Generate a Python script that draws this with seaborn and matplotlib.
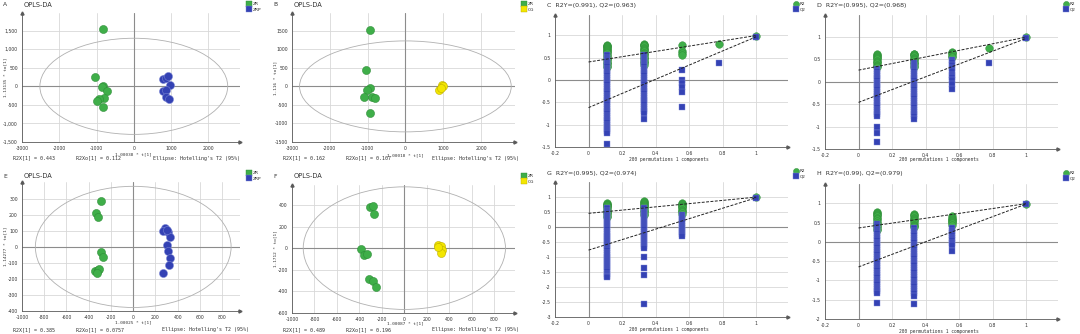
import matplotlib
matplotlib.use("Agg")
import matplotlib.pyplot as plt
import numpy as np
import pandas as pd
import seaborn as sns
from matplotlib.patches import Ellipse
from matplotlib.lines import Line2D
from matplotlib.ticker import AutoMinorLocator, FuncFormatter

# ---------------- score plot data (OPLS-DA) ----------------
a_zr_t = [-830, -1054, -820, -850, -723, -812, -937, -991, -830]
a_zr_to = [1555, 245, 10, -30, -136, -327, -355, -409, -555]
a_zrp_t = [795, 857, 929, 982, 795, 857, 857, 955]
a_zrp_to = [200, 227, 282, 27, -136, -100, -300, -345]

b_zr_t = [-933, -1049, -933, -1004, -1093, -889, -809, -924]
b_zr_to = [1518, 436, -36, -109, -291, -273, -309, -709]
b_cg_t = [978, 996, 889, 951]
b_cg_to = [27, 0, -91, -36]

e_zr_t = [-292, -337, -316, -286, -271, -346, -313, -304, -322]
e_zr_to = [286, 210, 189, -34, -63, -151, -147, -141, -160]
e_zrp_t = [286, 271, 310, 334, 304, 310, 334, 319, 271, 300]
e_zrp_to = [116, 97, 95, 59, 13, -25, -67, -116, -164, 105]

f_zr_t = [-305, -281, -270, -388, -359, -329, -311, -281, -252]
f_zr_to = [381, 387, 319, -9, -62, -56, -281, -300, -356]
f_cg_t = [302, 317, 326, 332, 323, 302]
f_cg_to = [31, 6, 16, -19, -44, 6]

# Hotelling's T2 (95%) ellipse semi-axes
a_ellipse = (2520, 1295)
b_ellipse = (2800, 1227)
e_ellipse = (880, 378)
f_ellipse = (900, 567)

# model statistics printed under each score plot
a_stats = ("R2X[1] = 0.443", "R2Xo[1] = 0.112", "1.00038 * t[1]", "1.13135 * to[1]")
b_stats = ("R2X[1] = 0.162", "R2Xo[1] = 0.107", "1.00018 * t[1]", "1.116 * to[1]")
e_stats = ("R2X[1] = 0.385", "R2Xo[1] = 0.0757", "1.00025 * t[1]", "1.14277 * to[1]")
f_stats = ("R2X[1] = 0.489", "R2Xo[1] = 0.196", "1.00087 * t[1]", "1.1712 * to[1]")

# ---------------- permutation test data ----------------
perm_x = [0.11, 0.33, 0.56, 0.78, 1.0]

c_r2 = [
    [0.78, 0.76, 0.75, 0.73, 0.71, 0.69, 0.67, 0.64, 0.62, 0.59, 0.56, 0.53, 0.50, 0.47, 0.44, 0.41, 0.38, 0.35, 0.32, 0.29],
    [0.81, 0.79, 0.77, 0.75, 0.72, 0.70, 0.67, 0.64, 0.61, 0.58, 0.55, 0.52, 0.49, 0.46, 0.43, 0.40, 0.37, 0.33],
    [0.78, 0.65, 0.59, 0.55],
    [0.81],
    [0.991],
]
c_q2 = [
    [0.55, 0.50, 0.45, 0.40, 0.35, 0.30, 0.25, 0.20, 0.15, 0.10, 0.05, 0.00, -0.05, -0.10, -0.15, -0.20, -0.25,
     -0.30, -0.35, -0.40, -0.45, -0.50, -0.55, -0.60, -0.65, -0.70, -0.75, -0.80, -0.85, -0.90, -0.95, -1.00,
     -1.05, -1.10, -1.15, -1.19, -1.44],
    [0.55, 0.50, 0.45, 0.40, 0.35, 0.30, 0.25, 0.20, 0.15, 0.10, 0.05, 0.00, -0.05, -0.10, -0.15, -0.20, -0.25,
     -0.30, -0.35, -0.40, -0.45, -0.50, -0.55, -0.60, -0.65, -0.70, -0.75, -0.87],
    [0.21, 0.00, -0.07, -0.16, -0.26, -0.60],
    [0.37],
    [0.963],
]
c_intercepts = (0.40, -0.62)

d_r2 = [
    [0.62, 0.60, 0.58, 0.56, 0.53, 0.50, 0.47, 0.44, 0.41, 0.38, 0.35, 0.32],
    [0.63, 0.61, 0.59, 0.57, 0.54, 0.51, 0.48, 0.45, 0.42, 0.39, 0.36, 0.34],
    [0.66, 0.64, 0.61, 0.58, 0.56],
    [0.75],
    [0.995],
]
d_q2 = [
    [0.28, 0.23, 0.18, 0.13, 0.08, 0.03, -0.02, -0.07, -0.12, -0.17, -0.22, -0.27, -0.32, -0.37, -0.42, -0.47,
     -0.52, -0.57, -0.62, -0.67, -0.72, -0.76, -1.00, -1.15, -1.34],
    [0.43, 0.38, 0.33, 0.28, 0.23, 0.18, 0.13, 0.08, 0.03, -0.02, -0.07, -0.12, -0.17, -0.22, -0.27, -0.32,
     -0.37, -0.42, -0.47, -0.52, -0.57, -0.62, -0.67, -0.72, -0.77, -0.84],
    [0.49, 0.44, 0.37, 0.30, 0.23, 0.16, 0.10, 0.04, -0.05, -0.16],
    [0.42],
    [0.968],
]
d_intercepts = (0.26, -0.46)

g_r2 = [
    [0.81, 0.78, 0.75, 0.72, 0.69, 0.66, 0.62, 0.58, 0.54, 0.50, 0.46, 0.42, 0.38, 0.34],
    [0.87, 0.84, 0.81, 0.78, 0.74, 0.70, 0.66, 0.62, 0.58, 0.54, 0.50, 0.45, 0.40],
    [0.81, 0.78, 0.74, 0.70, 0.66, 0.62, 0.58, 0.54, 0.50, 0.45],
    [],
    [0.995],
]
g_q2 = [
    [0.62, 0.55, 0.48, 0.41, 0.34, 0.27, 0.20, 0.13, 0.06, -0.01, -0.08, -0.15, -0.22, -0.29, -0.36, -0.43,
     -0.50, -0.57, -0.64, -0.71, -0.78, -0.85, -0.92, -0.99, -1.06, -1.13, -1.20, -1.27, -1.34, -1.41, -1.48,
     -1.55, -1.62, -1.68],
    [0.62, 0.55, 0.48, 0.41, 0.34, 0.27, 0.20, 0.13, 0.06, -0.01, -0.08, -0.15, -0.22, -0.29, -0.36, -0.43,
     -0.50, -0.57, -0.64, -0.71, -1.01, -1.36, -1.61, -2.57],
    [0.40, 0.33, 0.26, 0.19, 0.12, 0.05, -0.02, -0.09, -0.16, -0.23, -0.30],
    [],
    [0.974],
]
g_intercepts = (0.455, -0.77)

h_r2 = [
    [0.78, 0.75, 0.72, 0.69, 0.66, 0.62, 0.58, 0.54, 0.50, 0.46, 0.42, 0.38, 0.34, 0.30],
    [0.72, 0.69, 0.66, 0.63, 0.60, 0.57, 0.53, 0.49, 0.45, 0.41, 0.38],
    [0.66, 0.63, 0.60, 0.57, 0.54, 0.51, 0.48, 0.45],
    [],
    [0.99],
]
h_q2 = [
    [0.46, 0.40, 0.34, 0.28, 0.22, 0.16, 0.10, 0.04, -0.02, -0.08, -0.14, -0.20, -0.26, -0.32, -0.38, -0.44,
     -0.50, -0.56, -0.62, -0.68, -0.74, -0.80, -0.86, -0.92, -0.98, -1.04, -1.10, -1.16, -1.22, -1.28, -1.33,
     -1.59],
    [0.35, 0.29, 0.23, 0.17, 0.11, 0.05, -0.01, -0.07, -0.13, -0.19, -0.25, -0.31, -0.37, -0.43, -0.49, -0.55,
     -0.61, -0.67, -0.73, -0.79, -0.85, -0.91, -0.97, -1.03, -1.09, -1.15, -1.21, -1.27, -1.33, -1.41, -1.61],
    [0.35, 0.29, 0.23, 0.17, 0.11, 0.05, -0.02, -0.08, -0.24],
    [],
    [0.979],
]
h_intercepts = (0.36, -0.65)

# ---------------- styling ----------------
GREEN = "#3fae49"
GREEN_EDGE = "#2b8a34"
BLUE = "#3442b4"
BLUE_EDGE = "#7f8ad6"
YELLOW = "#f3e600"
YELLOW_EDGE = "#b8a800"
GRID = "#d8d8d8"
ZERO = "#8c8c8c"
AXIS = "#5a5a5a"
TXT = "#333333"
MONO = "DejaVu Sans Mono"

sns.set_style("white")
plt.rcParams["font.family"] = ["DejaVu Sans"]

W, H = 1080, 334
fig = plt.figure(figsize=(W / 100, H / 100), dpi=100)


def px_axes(l, r, t, b):
    return fig.add_axes([l / W, 1 - b / H, (r - l) / W, (b - t) / H])


def style_axes(ax, xlim, ylim, xticks, yticks, yfmt=None):
    ax.set_xlim(*xlim)
    ax.set_ylim(*ylim)
    ax.set_xticks(xticks)
    ax.set_yticks(yticks)
    ax.xaxis.set_minor_locator(AutoMinorLocator(5))
    ax.yaxis.set_minor_locator(AutoMinorLocator(5))
    fmt = yfmt or FuncFormatter(lambda v, p: f"{v:g}")
    ax.yaxis.set_major_formatter(fmt)
    ax.xaxis.set_major_formatter(FuncFormatter(lambda v, p: f"{v:g}"))
    ax.set_axisbelow(True)
    ax.grid(True, which="major", color=GRID, lw=0.6)
    ax.axvline(0, color=ZERO, lw=0.8, zorder=1.5)
    ax.axhline(0, color=ZERO, lw=0.8, zorder=1.5)
    for s in ("top", "right"):
        ax.spines[s].set_visible(False)
    for s in ("left", "bottom"):
        ax.spines[s].set_color(AXIS)
        ax.spines[s].set_linewidth(0.6)
    ax.tick_params(which="major", direction="out", length=2, width=0.4, colors=AXIS,
                   labelsize=3.3, labelcolor=TXT, pad=1)
    ax.tick_params(which="minor", direction="out", length=1, width=0.3, colors=AXIS)
    # arrow heads at the ends of the axes
    ax.plot([1], [0], marker=">", ms=2.2, color=AXIS, transform=ax.transAxes, clip_on=False)
    ax.plot([0], [1], marker="^", ms=2.2, color=AXIS, transform=ax.transAxes, clip_on=False)


def add_legend(ax, x, y, entries):
    handles = [Line2D([], [], ls="none", marker="s", ms=4.6, mfc=c, mec=e, mew=0.3)
               for c, e, _ in entries]
    ax.legend(handles, [lab for _, _, lab in entries], loc="upper left",
              bbox_to_anchor=(x / W, 1 - y / H), bbox_transform=fig.transFigure,
              frameon=False, fontsize=3.2, handlelength=1.0, handletextpad=0.3,
              labelspacing=0.3, borderpad=0, borderaxespad=0)


def ftext(x, y, s, **kw):
    kw.setdefault("color", TXT)
    fig.text(x / W, 1 - y / H, s, **kw)


def score_panel(box, letter, t1, o1, t2, o2, lab1, lab2, col2, edge2, ell, xlim, ylim,
                xticks, yticks, stats, text_pos, yfmt=None):
    l, r, t, b = box
    ax = px_axes(l, r, t, b)
    df = pd.DataFrame({
        "t": list(t1) + list(t2),
        "to": list(o1) + list(o2),
        "group": [lab1] * len(t1) + [lab2] * len(t2),
    })
    style_axes(ax, xlim, ylim, xticks, yticks, yfmt)
    ax.add_patch(Ellipse((0, 0), 2 * ell[0], 2 * ell[1], fill=False,
                         edgecolor="#b0b0b0", lw=0.6, zorder=2))
    for grp, c, e in ((lab1, GREEN, GREEN_EDGE), (lab2, col2, edge2)):
        sub = df[df["group"] == grp]
        sns.scatterplot(data=sub, x="t", y="to", color=c, edgecolor=e, linewidth=0.35,
                        s=34, ax=ax, zorder=3, legend=False)
    ax.set_xlabel("")
    ax.set_ylabel("")
    x0, ytitle, ybot, xl_y, yl_x, ell_x = text_pos
    ftext(x0 + 3, ytitle, letter, fontsize=4.3, va="center")
    ftext(x0 + 24, ytitle, "OPLS-DA", fontsize=4.8, va="center")
    ftext(x0 + 13, ybot, stats[0], fontsize=3.6, family=MONO, va="center")
    ftext(x0 + 76, ybot, stats[1], fontsize=3.6, family=MONO, va="center")
    ftext(x0 + ell_x, ybot, "Ellipse: Hotelling's T2 (95%)", fontsize=3.6, family=MONO, va="center")
    ftext((l + r) / 2 + 2, xl_y, stats[2], fontsize=3.2, family=MONO, ha="center", va="center")
    ftext(yl_x, (t + b) / 2, stats[3], fontsize=3.2, family=MONO, ha="center", va="center",
          rotation=90)
    add_legend(ax, r + 7, t - 11, [(GREEN, GREEN_EDGE, lab1), (col2, edge2, lab2)])
    return ax


def perm_panel(box, title, r2, q2, intercepts, ylim, yticks, x0, ytitle, xl_y):
    l, r, t, b = box
    ax = px_axes(l, r, t, b)
    style_axes(ax, (-0.2, 1.19), ylim, [-0.2, 0, 0.2, 0.4, 0.6, 0.8, 1], yticks)
    rows = []
    for xv, ys in zip(perm_x, r2):
        rows += [(xv, y, "R2") for y in ys]
    for xv, ys in zip(perm_x, q2):
        rows += [(xv, y, "Q2") for y in ys]
    df = pd.DataFrame(rows, columns=["x", "y", "stat"])
    sns.scatterplot(data=df[df["stat"] == "R2"], x="x", y="y", color=GREEN, edgecolor=GREEN_EDGE,
                    linewidth=0.3, s=30, marker="o", ax=ax, zorder=3, legend=False)
    sns.scatterplot(data=df[df["stat"] == "Q2"], x="x", y="y", color=BLUE, edgecolor=BLUE_EDGE,
                    linewidth=0.3, s=22, marker="s", ax=ax, zorder=4, legend=False)
    # regression lines through the intercept and the original model
    ax.plot([0, 1], [intercepts[0], r2[-1][0]], color="#222222", lw=0.7, ls=(0, (3, 1.5)), zorder=5)
    ax.plot([0, 1], [intercepts[1], q2[-1][0]], color="#222222", lw=0.7, ls=(0, (3, 1.5)), zorder=5)
    ax.set_xlabel("")
    ax.set_ylabel("")
    ftext(x0 + 7, ytitle, title, fontsize=4.5, va="center")
    ftext((l + r) / 2 - 3, xl_y, "200 permutations 1 components", fontsize=3.3, family=MONO,
          ha="center", va="center")
    handles = [Line2D([], [], ls="none", marker="o", ms=4.4, mfc=GREEN, mec=GREEN_EDGE, mew=0.3),
               Line2D([], [], ls="none", marker="s", ms=4.0, mfc=BLUE, mec=BLUE_EDGE, mew=0.3)]
    ax.legend(handles, ["R2", "Q2"], loc="upper left",
              bbox_to_anchor=((r + 6) / W, 1 - (t - 13) / H), bbox_transform=fig.transFigure,
              frameon=False, fontsize=3.0, handlelength=1.0, handletextpad=0.3,
              labelspacing=0.4, borderpad=0, borderaxespad=0)
    return ax


comma = FuncFormatter(lambda v, p: f"{v:,.0f}")

score_panel((22, 240, 13, 142), "A", a_zr_t, a_zr_to, a_zrp_t, a_zrp_to, "ZR", "ZRP", BLUE, BLUE_EDGE,
            a_ellipse, (-3000, 2850), (-1500, 1975), [-3000, -2000, -1000, 0, 1000, 2000],
            [-1500, -1000, -500, 0, 500, 1000, 1500], a_stats, (0, 5, 158, 154, 5, 153), yfmt=comma)
score_panel((292, 515, 13, 142), "B", b_zr_t, b_zr_to, b_cg_t, b_cg_to, "ZR", "CG", YELLOW, YELLOW_EDGE,
            b_ellipse, (-3000, 2900), (-1500, 1980), [-3000, -2000, -1000, 0, 1000, 2000],
            [-1500, -1000, -500, 0, 500, 1000, 1500], b_stats, (270, 5, 158, 155, 275, 162))
score_panel((22, 240, 182, 311), "E", e_zr_t, e_zr_to, e_zrp_t, e_zrp_to, "ZR", "ZRP", BLUE, BLUE_EDGE,
            e_ellipse, (-1000, 960), (-400, 405), [-1000, -800, -600, -400, -200, 0, 200, 400, 600, 800],
            [-400, -300, -200, -100, 0, 100, 200, 300], e_stats, (0, 176, 330, 322, 5, 162))
score_panel((292, 515, 185, 313), "F", f_zr_t, f_zr_to, f_cg_t, f_cg_to, "ZR", "CG", YELLOW, YELLOW_EDGE,
            f_ellipse, (-1000, 985), (-600, 584), [-1000, -800, -600, -400, -200, 0, 200, 400, 600, 800],
            [-600, -400, -200, 0, 200, 400], f_stats, (270, 176, 330, 323, 275, 162))

perm_panel((555, 788, 15, 147), "C  R2Y=(0.991), Q2=(0.963)", c_r2, c_q2, c_intercepts,
           (-1.5, 1.45), [-1.5, -1, -0.5, 0, 0.5, 1], 540, 5, 159)
perm_panel((825, 1058, 15, 149), "D  R2Y=(0.995), Q2=(0.968)", d_r2, d_q2, d_intercepts,
           (-1.5, 1.49), [-1.5, -1, -0.5, 0, 0.5, 1], 810, 5, 160)
perm_panel((555, 788, 182, 317), "G  R2Y=(0.995), Q2=(0.974)", g_r2, g_q2, g_intercepts,
           (-3, 1.5), [-3, -2.5, -2, -1.5, -1, -0.5, 0, 0.5, 1], 540, 174, 330)
perm_panel((825, 1058, 184, 319), "H  R2Y=(0.99), Q2=(0.979)", h_r2, h_q2, h_intercepts,
           (-2, 1.5), [-2, -1.5, -1, -0.5, 0, 0.5, 1], 810, 174, 331)

fig.savefig("out.png", dpi=100, facecolor="white")
